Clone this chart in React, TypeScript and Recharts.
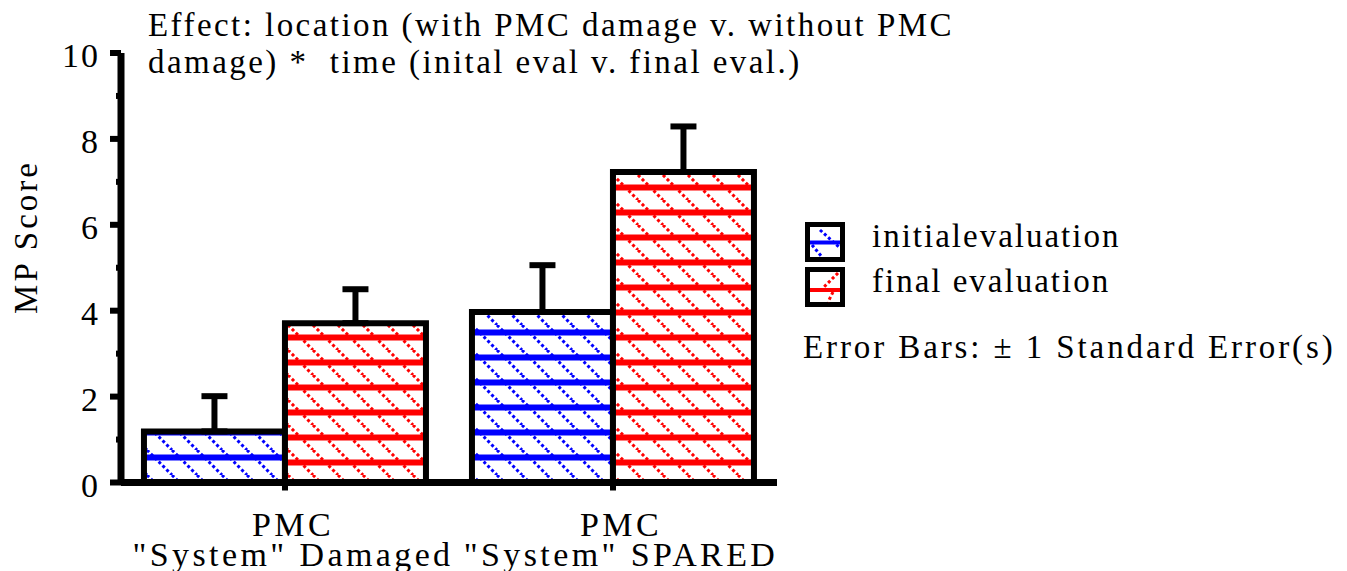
import React from "react";
import { BarChart, Bar, XAxis, YAxis, ErrorBar, Legend } from "recharts";

// values
const categories = ["PMC|\"System\" Damaged", "PMC|\"System\" SPARED"];
const initialEval = [1.19, 3.97];
const finalEval = [3.71, 7.23];
const initialSE = [0.82, 1.09];
const finalSE = [0.79, 1.06];
const yTicks = [0, 1, 2, 3, 4, 5, 6, 7, 8, 9, 10];
const legendOrder = ["initial", "final"];

const data = categories.map((name, i) => ({
  name,
  initial: initialEval[i],
  initialErr: [0, initialSE[i]],
  final: finalEval[i],
  finalErr: [0, finalSE[i]],
}));

const FONT = "'Liberation Serif', 'Times New Roman', serif";
const BLUE = "#0000ff";
const RED = "#ff0000";

const YTick = (props: any) => {
  const { x, y, payload } = props;
  const axisX = x + 21;
  const major = payload.value % 2 === 0;
  return (
    <g>
      <line x1={axisX - (major ? 11 : 5)} x2={axisX} y1={y} y2={y} stroke="#000" strokeWidth={6} />
      {major && (
        <text x={x} y={y} dy={14} textAnchor="end" fontFamily={FONT} fontSize={34} letterSpacing={2} fill="#000">
          {payload.value}
        </text>
      )}
    </g>
  );
};

const XTick = (props: any) => {
  const { x, y, payload } = props;
  const [l1, l2] = String(payload.value).split("|");
  return (
    <text x={x + 8} y={y} textAnchor="middle" fontFamily={FONT} fontSize={34} letterSpacing={3.4} fill="#000">
      <tspan x={x + 8} dy={43}>{l1}</tspan>
      <tspan x={x + 8} dy={30}>{l2}</tspan>
    </text>
  );
};

const YLabel = () => (
  <text x={37} y={237} transform="rotate(-90 37 237)" textAnchor="middle" fontFamily={FONT} fontSize={33} letterSpacing={3} fill="#000">
    MP Score
  </text>
);

const LegendBox = (props: any) => {
  const payload = [...(props.payload || [])].sort(
    (a: any, b: any) => legendOrder.indexOf(a.dataKey) - legendOrder.indexOf(b.dataKey)
  );
  return (
    <svg width={545} height={150} style={{ display: "block", overflow: "visible" }}>
      {payload.map((p: any, i: number) => {
        const top = i * 45;
        const isInitial = p.dataKey === "initial";
        const col = isInitial ? BLUE : RED;
        return (
          <g key={p.dataKey}>
            <rect x={7.5} y={top + 2.5} width={35} height={35} fill="#fff" stroke="#000" strokeWidth={5} />
            {isInitial ? (
              <g stroke={col} strokeWidth={3} strokeDasharray="3 2.5">
                <line x1={20} y1={top + 8} x2={40} y2={top + 26} />
                <line x1={12} y1={top + 23} x2={22} y2={top + 35} />
              </g>
            ) : (
              <g stroke={col} strokeWidth={3} strokeDasharray="3 2.5">
                <line x1={38} y1={top + 6} x2={23} y2={top + 21} />
                <line x1={33} y1={top + 25} x2={28} y2={top + 35} />
              </g>
            )}
            <rect x={10} y={top + (isInitial ? 18.5 : 21)} width={30} height={4} fill={col} />
            <text x={72} y={top + 25} fontFamily={FONT} fontSize={33} letterSpacing={2} fill="#000">
              {p.value}
            </text>
          </g>
        );
      })}
      <text x={3} y={136} fontFamily={FONT} fontSize={33} letterSpacing={2.9} fill="#000">
        Error Bars: ± 1 Standard Error(s)
      </text>
    </svg>
  );
};

export default function App() {
  return (
    <div style={{ position: "absolute", left: 0, top: 0, width: 1347, height: 571, background: "#fff", fontFamily: FONT }}>
      <div
        style={{
          position: "absolute",
          left: 148,
          top: 7,
          fontSize: 33,
          lineHeight: "36.5px",
          letterSpacing: 2.45,
          whiteSpace: "pre",
          color: "#000",
          zIndex: 2,
        }}
      >
        {"Effect: location (with PMC damage v. without PMC\ndamage) *  time (inital eval v. final eval.)"}
      </div>
      <BarChart
        width={1347}
        height={571}
        data={data}
        margin={{ top: 53, right: 570, bottom: 0, left: 0 }}
        barGap={0}
        barCategoryGap="7%"
      >
        <defs>
          <pattern id="bluePat" patternUnits="userSpaceOnUse" width={25} height={25}>
            <rect x={0} y={0} width={25} height={25} fill="#fff" />
            <g stroke={BLUE} strokeWidth={3} strokeDasharray="3 2.5">
              <line x1={22} y1={0} x2={47} y2={25} />
              <line x1={-3} y1={0} x2={22} y2={25} />
            </g>
            <rect x={0} y={4.5} width={25} height={6} fill={BLUE} />
          </pattern>
          <pattern id="redPat" patternUnits="userSpaceOnUse" width={25} height={25}>
            <rect x={0} y={0} width={25} height={25} fill="#fff" />
            <g stroke={RED} strokeWidth={3} strokeDasharray="3 2.5">
              <line x1={13} y1={0} x2={38} y2={25} />
              <line x1={-12} y1={0} x2={13} y2={25} />
            </g>
            <rect x={0} y={9.5} width={25} height={6} fill={RED} />
          </pattern>
        </defs>
        <XAxis
          dataKey="name"
          interval={0}
          height={88.5}
          axisLine={{ stroke: "#000", strokeWidth: 7 }}
          tickLine={{ stroke: "#000", strokeWidth: 6 }}
          tickSize={8}
          tick={<XTick />}
        />
        <YAxis
          domain={[0, 10]}
          ticks={yTicks}
          interval={0}
          width={121}
          axisLine={{ stroke: "#000", strokeWidth: 7 }}
          tickLine={false}
          tickSize={11}
          tickMargin={10}
          tick={<YTick />}
          label={<YLabel />}
        />
        <Legend
          layout="vertical"
          align="center"
          verticalAlign="middle"
          wrapperStyle={{ position: "absolute", left: 800, top: 222, width: 545, height: 150 }}
          content={<LegendBox />}
        />
        <Bar dataKey="initial" name="initialevaluation" fill="url(#bluePat)" stroke="#000" strokeWidth={6} isAnimationActive={false}>
          <ErrorBar dataKey="initialErr" direction="y" width={13} stroke="#000" strokeWidth={6} isAnimationActive={false} />
        </Bar>
        <Bar dataKey="final" name="final evaluation" fill="url(#redPat)" stroke="#000" strokeWidth={6} isAnimationActive={false}>
          <ErrorBar dataKey="finalErr" direction="y" width={13} stroke="#000" strokeWidth={6} isAnimationActive={false} />
        </Bar>
      </BarChart>
    </div>
  );
}
